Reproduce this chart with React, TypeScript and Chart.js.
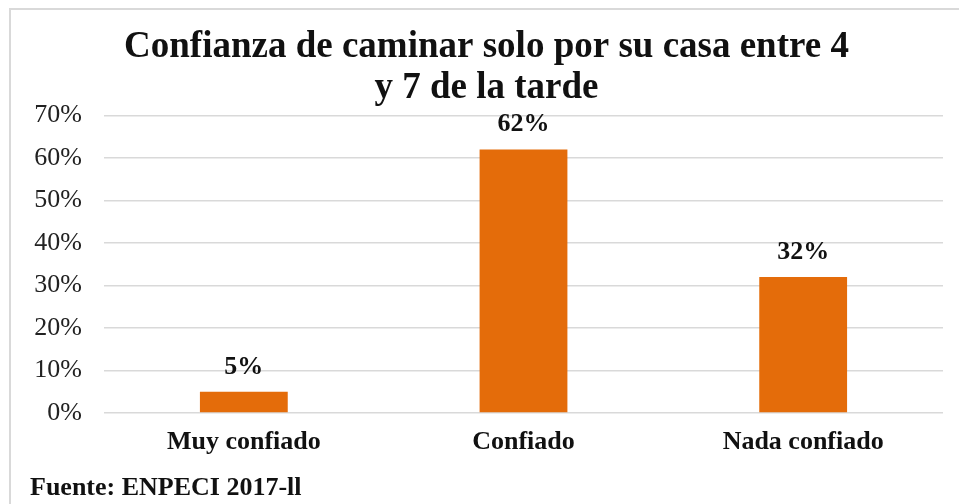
import React, { useEffect, useRef } from "react";
import { Chart, registerables } from "chart.js";

Chart.register(...registerables);

const categories = ["Muy confiado", "Confiado", "Nada confiado"];
const values = [0.05, 0.62, 0.32];
const valueLabels = ["5%", "62%", "32%"];
const titleLines = ["Confianza de caminar solo por su casa entre 4", "y 7 de la tarde"];
const sourceText = "Fuente: ENPECI 2017-ll";

const SERIF = "'Liberation Serif', 'Times New Roman', serif";

const barLabelPlugin = {
  id: "barLabels",
  afterDatasetsDraw(chart: any) {
    const ctx = chart.ctx;
    const meta = chart.getDatasetMeta(0);
    ctx.save();
    ctx.font = `bold 26px ${SERIF}`;
    ctx.fillStyle = "#111";
    ctx.textAlign = "center";
    ctx.textBaseline = "alphabetic";
    meta.data.forEach((bar: any, i: number) => {
      ctx.fillText(valueLabels[i], bar.x, bar.y - 18);
    });
    ctx.restore();
  },
};

export default function App() {
  const ref = useRef<HTMLCanvasElement | null>(null);

  useEffect(() => {
    if (!ref.current) return;
    const chart = new Chart(ref.current, {
      type: "bar",
      data: {
        labels: categories,
        datasets: [
          {
            data: values,
            backgroundColor: "#E46C0A",
            borderWidth: 0,
            barPercentage: 0.314,
            categoryPercentage: 1,
          },
        ],
      },
      options: {
        responsive: false,
        animation: false,
        maintainAspectRatio: false,
        layout: { padding: { left: 30, right: 16, top: 0, bottom: 0 } },
        plugins: {
          legend: { display: false },
          tooltip: { enabled: false },
          title: {
            display: true,
            text: titleLines,
            color: "#111",
            font: { family: SERIF, size: 37, weight: "bold", lineHeight: 1.1 },
            padding: { top: 27, bottom: 7 },
          },
          subtitle: {
            display: true,
            text: sourceText,
            position: "bottom",
            align: "start",
            color: "#111",
            font: { family: SERIF, size: 26, weight: "bold", lineHeight: 1.2 },
            padding: { top: 0, bottom: 0 },
          },
        },
        scales: {
          x: {
            grid: { display: false, drawTicks: false },
            border: { display: false },
            ticks: {
              color: "#111",
              padding: 14,
              font: { family: SERIF, size: 26, weight: "bold" },
            },
            afterFit(scale: any) {
              scale.height = 59.8;
            },
          },
          y: {
            min: 0,
            max: 0.7,
            grid: { color: "#d9d9d9", lineWidth: 1.5, drawTicks: false },
            border: { display: false },
            ticks: {
              stepSize: 0.1,
              color: "#222",
              padding: 22,
              font: { family: SERIF, size: 26 },
              callback: (v: any) => `${Math.round(Number(v) * 100)}%`,
            },
            afterFit(scale: any) {
              scale.width = 74;
            },
          },
        },
      },
      plugins: [barLabelPlugin],
    });
    return () => chart.destroy();
  }, []);

  return (
    <div
      style={{
        position: "fixed",
        left: 0,
        top: 0,
        width: 959,
        height: 504,
        background: "#fff",
        overflow: "hidden",
      }}
    >
      <div
        style={{
          position: "absolute",
          left: 9,
          top: 8,
          right: -4,
          bottom: -4,
          borderTop: "2px solid #d9d9d9",
          borderLeft: "2px solid #d9d9d9",
        }}
      />
      <canvas
        ref={ref}
        width={959}
        height={504}
        style={{ position: "absolute", left: 0, top: 0, width: 959, height: 504 }}
      />
    </div>
  );
}
